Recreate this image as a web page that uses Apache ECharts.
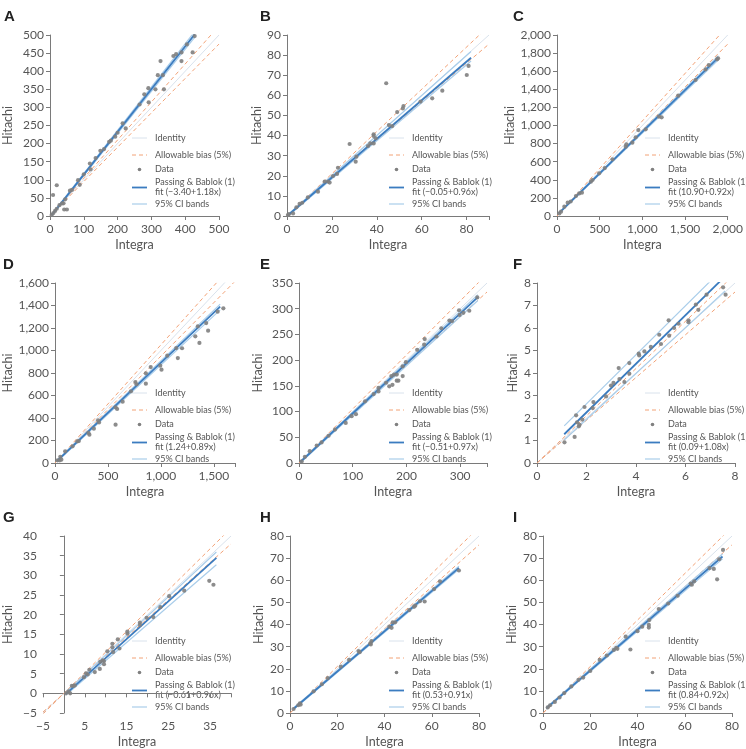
<!DOCTYPE html>
<html><head><meta charset="utf-8">
<script src="https://cdn.jsdelivr.net/npm/echarts@6/dist/echarts.min.js"></script>
<style>html,body{margin:0;padding:0;background:#fff}#c{width:746px;height:749px}</style>
</head><body><div id="c"></div>
<script>
// ---------- data ----------
const panelLetters = ['A','B','C','D','E','F','G','H','I'];
const xAxisTitle = 'Integra';
const yAxisTitle = 'Hitachi';
const legendNames = ['Identity','Allowable bias (5%)','Data','Passing & Bablok (1)','95% CI bands'];
const allowableBias = 0.05;

const dataA = [[5,3],[9,58],[10,8],[15,14],[20,85],[20,20],[28,30],[36,35],[40,35],[42,18],[45,46],[50,18],[59,70],[65,72],[83,99],[88,86],[100,115],[118,145],[120,129],[135,160],[149,180],[160,185],[175,205],[180,208],[193,219],[200,230],[215,256],[224,242],[265,308],[279,336],[291,353],[292,314],[312,350],[319,389],[334,389],[337,350],[327,428],[365,442],[373,447],[389,428],[389,452],[405,474],[422,452],[428,497]];
const dataB = [[0.4,0.5],[0.8,0.9],[2.7,1.3],[4.2,4.3],[5.6,6],[6.8,6.6],[9.3,9.3],[13.8,12.1],[16.8,17.1],[18.3,17.1],[19,16.6],[20.5,19.9],[22.3,20.9],[22.7,24],[27.9,35.8],[30.6,27],[30.9,29.5],[36.1,34.8],[37.1,36.1],[38.6,40.6],[38.6,39.8],[38.6,36.1],[39.5,38.6],[44.2,66],[45.4,45.2],[46.9,44.7],[49.1,51.7],[51.6,53.5],[51.9,54.7],[59.5,56.9],[64.7,58.5],[69.2,62.3],[80.1,70.1],[80.9,74.6]];
const dataC = [[27,29],[47,48],[86,103],[125,147],[160,160],[222,221],[261,250],[292,258],[397,379],[416,398],[494,471],[560,530],[650,626],[805,766],[813,792],[883,810],[922,869],[953,950],[1039,958],[1194,1098],[1226,1090],[1420,1330],[1623,1503],[1739,1620],[1778,1668],[1875,1731],[1887,1742]];
const dataD = [[24,24],[45,24],[60,30],[50,55],[96,104],[166,148],[211,193],[225,195],[316,267],[325,252],[367,305],[407,379],[416,361],[572,341],[572,495],[587,480],[639,545],[717,637],[759,720],[770,700],[858,705],[858,797],[904,853],[994,865],[1006,830],[1060,954],[1145,1022],[1160,933],[1200,1020],[1325,1126],[1349,1215],[1364,1067],[1428,1244],[1446,1176],[1536,1345],[1590,1375]];
const dataE = [[5,3],[11,12],[20,23],[33,34],[42,40],[55,53],[67,65],[87,78],[98,91],[106,95],[123,120],[139,134],[148,139],[148,146],[162,156],[168,149],[174,152],[172,169],[177,172],[182,160],[185,160],[182,172],[193,169],[193,188],[199,196],[220,220],[234,241],[233,230],[256,246],[265,262],[280,277],[285,276],[298,297],[299,288],[306,292],[317,296],[332,322]];
const dataF = [[1.11,0.92],[1.52,1.16],[1.58,2.12],[1.62,1.81],[1.69,1.63],[1.72,1.70],[1.83,1.93],[1.92,2.49],[2.28,2.71],[2.25,2.44],[2.79,2.96],[2.99,3.44],[3.09,3.56],[3.30,4.22],[3.33,3.73],[3.53,3.60],[3.73,4.44],[3.73,3.97],[4.11,4.86],[4.13,4.78],[4.34,4.96],[4.60,5.16],[4.94,5.70],[5.01,5.29],[5.32,6.34],[5.34,5.66],[5.54,6.00],[5.72,6.19],[6.12,6.34],[6.12,6.26],[6.42,7.04],[6.52,6.81],[6.85,7.48],[7.52,7.81],[7.62,7.48]];
const dataG = [[0.5,0.0],[1.1,0.5],[1.5,0.0],[1.9,1.9],[2.3,1.9],[2.6,2.0],[4.8,4.1],[5.3,5.1],[5.7,4.8],[6.1,6.0],[7.4,5.4],[8.6,6.2],[8.7,8.0],[9.3,8.4],[9.6,8.2],[9.6,7.4],[10.4,10.7],[11.6,11.7],[11.6,12.6],[11.8,10.5],[12.9,13.7],[13.3,11.4],[15.2,15.7],[15.2,15.2],[18.2,18.0],[18.2,17.4],[19.8,19.2],[21.4,19.4],[23.1,21.9],[25.2,24.7],[28.8,26.1],[34.8,28.6],[35.8,27.6]];
const dataH = [[1.5,1.8],[3.5,3.5],[4.5,3.8],[4.2,4.4],[10,9.8],[13.5,13],[16,15.8],[21.5,21],[25,24],[29,28],[29.5,27.5],[34,31.5],[34.5,32.5],[34.2,31],[42,39],[43,38.5],[43.5,41],[44.5,41],[50.5,46.5],[52.5,48],[53,48.5],[55,50.5],[57,50.4],[61,56],[63.5,59.5],[71.5,64.4]];
const dataI = [[2,2.5],[3,3.5],[5,5],[7,7],[9,9],[12,12],[15,15],[17,16],[20,19],[24,24],[27,26],[30,28.5],[31,29.5],[31.5,29],[35,34.5],[37,28.7],[40,37],[42,39],[44.8,38.6],[44.8,39.8],[45,42],[49,47],[53,49.5],[57,53],[62.5,58.5],[63,58],[64,59.5],[72.3,65.1],[73.7,60.4],[70.5,65.5],[74.6,69.5],[76.2,73.7]];
const panelData = [dataA,dataB,dataC,dataD,dataE,dataF,dataG,dataH,dataI];

// Passing & Bablok fit (intercept, slope) and CI bands
const fitIntercept = [-3.40,-0.05,10.90,1.24,-0.51,0.09,-0.61,0.53,0.84];
const fitSlope     = [1.18, 0.96, 0.92, 0.89, 0.97, 1.08, 0.96, 0.91, 0.92];
const ciUpper = [[-2.0,1.195],[0.2,0.995],[15,0.93],[8,0.90],[1.0,0.98],[0.45,1.09],[-0.2,0.99],[0.9,0.915],[1.2,0.93]];
const ciLower = [[-5.0,1.165],[-0.4,0.945],[6,0.91],[-4,0.875],[-2.0,0.955],[-0.1,1.02],[-0.9,0.92],[0.2,0.905],[0.5,0.91]];
const fitRange = [[5,428],[0.3,82],[20,1890],[20,1560],[3,333],[1.1,7.6],[0.5,36.5],[1.5,71.5],[1.5,76]];

// axes: min, max, tick step, label step, label base
const xMin = [0,0,0,0,0,0,-5,0,0];
const xMax = [500,90,2000,1700,350,8,40,80,80];
const xStep = [100,20,500,500,100,2,5,20,20];
const xLabelStep = [100,20,500,500,100,2,10,20,20];
const xLabelBase = [0,0,0,0,0,0,-5,0,0];
const yMin = [0,0,0,0,0,0,-5,0,0];
const yMax = [500,90,2000,1600,350,8,40,80,80];
const yStep = [50,10,200,200,50,1,5,10,10];

// ---------- layout ----------
const grids = [
  {left:42, top:35, width:177, height:181},
  {left:287,top:35, width:202, height:181},
  {left:557,top:35, width:171, height:181},
  {left:47, top:283,width:188, height:180},
  {left:299,top:283,width:188, height:180},
  {left:537,top:283,width:198, height:180},
  {left:33, top:536,width:198, height:181},
  {left:290,top:536,width:189, height:181},
  {left:543,top:536,width:189, height:181}
];
const yNameGap = [36,23,39,41,35,18,29,25,25];
const letterPos = [[4,18],[260,18],[513,18],[3,266],[260,266],[513,266],[3,519],[260,519],[513,519]];
const legendX = [155,412,668];
const legendY = [138,393,641];

const FONT = 'Lato, "Open Sans", sans-serif';
const C_ID = '#d9e2ec', C_BIAS = '#f2a277', C_CI = '#a9cdea', C_FIT = '#3b7cc0', C_DOT = '#808080';

function fmt(v){
  const s = String(Math.abs(Math.round(v*1000)/1000)).replace(/\B(?=(\d{3})+(?!\d))/g, ',');
  return (v < 0 ? '\u2212' : '') + s;
}
function fmtCoef(v){ return (v < 0 ? '\u2212' : '') + Math.abs(v).toFixed(2); }

const option = {
  animation:false,
  backgroundColor:'#fff',
  grid:[], xAxis:[], yAxis:[], series:[], graphic:[]
};

const axisCommon = {
  axisLine:{show:true, lineStyle:{color:'#7a7a7a', width:1}},
  axisTick:{show:true, length:4, lineStyle:{color:'#7a7a7a'}},
  splitLine:{show:false},
  nameLocation:'middle',
  nameTextStyle:{color:'#555', fontSize:12.5, fontFamily:FONT}
};

for (let i=0;i<9;i++){
  option.grid.push(Object.assign({containLabel:false}, grids[i]));
  const lb = xLabelBase[i], ls = xLabelStep[i];
  option.xAxis.push(Object.assign({}, axisCommon, {
    type:'value', gridIndex:i, min:xMin[i], max:xMax[i], interval:xStep[i],
    name:xAxisTitle, nameGap:22,
    axisLabel:{color:'#555', fontSize:12, fontFamily:FONT, margin:7, showMaxLabel:true,
      formatter:(v)=>{ const r = Math.abs((v - lb) % ls); return (r < 1e-9 || Math.abs(r-ls)<1e-9) ? fmt(v) : ''; }}
  }));
  option.yAxis.push(Object.assign({}, axisCommon, {
    type:'value', gridIndex:i, min:yMin[i], max:yMax[i], interval:yStep[i],
    name:yAxisTitle, nameGap:yNameGap[i],
    axisLabel:{color:'#555', fontSize:12, fontFamily:FONT, margin:6, formatter:(v)=>fmt(v)}
  }));

  const lo = xMin[i], hi = xMax[i];
  const lineBase = {type:'line', xAxisIndex:i, yAxisIndex:i, symbol:'none', showSymbol:false, silent:true, clip:true, z:2};
  option.series.push(Object.assign({}, lineBase, {name:'Identity', data:[[lo,lo],[hi,hi]], lineStyle:{color:C_ID, width:1}}));
  option.series.push(Object.assign({}, lineBase, {name:'Allowable bias (5%)', data:[[lo,lo*(1+allowableBias)],[hi,hi*(1+allowableBias)]], lineStyle:{color:C_BIAS, width:1, type:[4,3]}}));
  option.series.push(Object.assign({}, lineBase, {name:'Allowable bias (5%) lo', data:[[lo,lo*(1-allowableBias)],[hi,hi*(1-allowableBias)]], lineStyle:{color:C_BIAS, width:1, type:[4,3]}}));
  const [r0,r1] = fitRange[i];
  option.series.push(Object.assign({}, lineBase, {name:'95% CI upper', data:[[r0,ciUpper[i][0]+ciUpper[i][1]*r0],[r1,ciUpper[i][0]+ciUpper[i][1]*r1]], lineStyle:{color:C_CI, width:1.2}}));
  option.series.push(Object.assign({}, lineBase, {name:'95% CI lower', data:[[r0,ciLower[i][0]+ciLower[i][1]*r0],[r1,ciLower[i][0]+ciLower[i][1]*r1]], lineStyle:{color:C_CI, width:1.2}}));
  option.series.push(Object.assign({}, lineBase, {name:'Passing & Bablok', z:3, data:[[r0,fitIntercept[i]+fitSlope[i]*r0],[r1,fitIntercept[i]+fitSlope[i]*r1]], lineStyle:{color:C_FIT, width:1.8}}));
  option.series.push({type:'scatter', name:'Data', xAxisIndex:i, yAxisIndex:i, data:panelData[i], symbolSize:4.2, z:4,
    itemStyle:{color:C_DOT, opacity:0.9}, silent:true});

  option.graphic.push({type:'text', left:letterPos[i][0], top:letterPos[i][1]-9,
    style:{text:panelLetters[i], fontSize:15, fontWeight:'bold', fontFamily:'"Liberation Sans", Arial, sans-serif', fill:'#222'}});

  const tx = legendX[i%3], ty = legendY[Math.floor(i/3)];
  const sx1 = tx-23, sx2 = tx-8;
  const off = [0,17,31.5,44.5,54.5,66];
  const txtStyle = {fontSize:9, fontFamily:FONT, fill:'#555', verticalAlign:'middle', align:'left'};
  const fitLabel = 'fit (' + fmtCoef(fitIntercept[i]) + '+' + fitSlope[i].toFixed(2) + 'x)';
  const items = [
    {type:'line', shape:{x1:sx1,y1:ty+off[0],x2:sx2,y2:ty+off[0]}, style:{stroke:C_ID,lineWidth:1}},
    {type:'text', x:tx, y:ty+off[0], style:Object.assign({text:legendNames[0]},txtStyle)},
    {type:'line', shape:{x1:sx1,y1:ty+off[1],x2:sx2,y2:ty+off[1]}, style:{stroke:C_BIAS,lineWidth:1,lineDash:[4,3]}},
    {type:'text', x:tx, y:ty+off[1], style:Object.assign({text:legendNames[1]},txtStyle)},
    {type:'circle', shape:{cx:(sx1+sx2)/2, cy:ty+off[2], r:1.8}, style:{fill:C_DOT}},
    {type:'text', x:tx, y:ty+off[2], style:Object.assign({text:legendNames[2]},txtStyle)},
    {type:'line', shape:{x1:sx1,y1:ty+(off[3]+off[4])/2,x2:sx2,y2:ty+(off[3]+off[4])/2}, style:{stroke:C_FIT,lineWidth:1.8}},
    {type:'text', x:tx, y:ty+off[3], style:Object.assign({text:legendNames[3]},txtStyle)},
    {type:'text', x:tx, y:ty+off[4], style:Object.assign({text:fitLabel},txtStyle)},
    {type:'line', shape:{x1:sx1,y1:ty+off[5],x2:sx2,y2:ty+off[5]}, style:{stroke:C_CI,lineWidth:1.2}},
    {type:'text', x:tx, y:ty+off[5], style:Object.assign({text:legendNames[4]},txtStyle)}
  ];
  option.graphic.push({type:'group', silent:true, children:items});
}

const chart = echarts.init(document.getElementById('c'), null, {renderer:'canvas'});
chart.setOption(option);
</script>
</body></html>
